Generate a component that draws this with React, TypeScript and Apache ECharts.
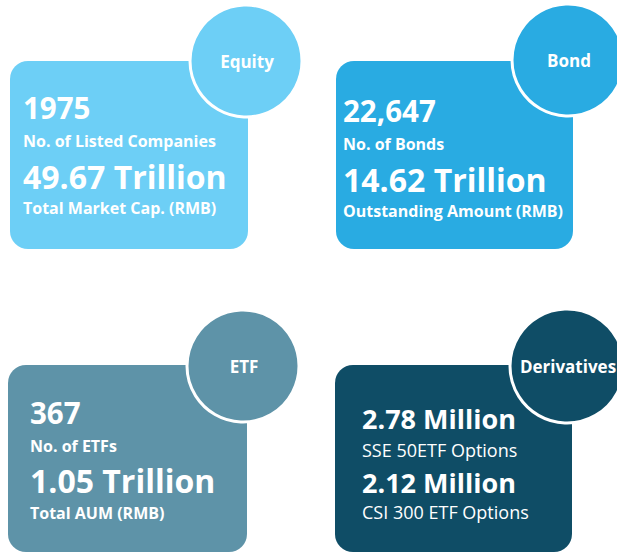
import React, { useEffect, useRef } from "react";
import * as echarts from "echarts";

const categories = ["Equity", "Bond", "ETF", "Derivatives"];
const firstValues = ["1975", "22,647", "367", "2.78 Million"];
const firstLabels = ["No. of Listed Companies", "No. of Bonds", "No. of ETFs", "SSE 50ETF Options"];
const secondValues = ["49.67 Trillion", "14.62 Trillion", "1.05 Trillion", "2.12 Million"];
const secondLabels = ["Total Market Cap. (RMB)", "Outstanding Amount (RMB)", "Total AUM (RMB)", "CSI 300 ETF Options"];

const colors = ["#6DCFF6", "#29ABE2", "#5E93A8", "#0F4D66"];
const cards = [
  { x: 10, y: 61, w: 238, h: 188, cx: 246, cy: 61, r: 56, tx: 23, lines: [107.5, 141, 176.5, 208], labelBold: true, big: 29.5, big2: 32, small: 16 },
  { x: 336, y: 61, w: 237, h: 188, cx: 568, cy: 60, r: 56, tx: 343, lines: [110, 144, 179, 211], labelBold: true, big: 29.5, big2: 32, small: 16 },
  { x: 8, y: 365, w: 239, h: 187, cx: 243, cy: 366, r: 56, tx: 30, lines: [412, 446, 480, 513], labelBold: true, big: 29.5, big2: 32, small: 16 },
  { x: 335, y: 365, w: 237, h: 187, cx: 567, cy: 366, r: 57, tx: 362, lines: [418, 450, 482, 512], labelBold: false, big: 27, big2: 27, small: 18 },
];

const FONT = "'Open Sans', sans-serif";

export default function App() {
  const ref = useRef<HTMLDivElement>(null);
  useEffect(() => {
    document.body.style.margin = "0";
    const chart = echarts.init(ref.current!, null, { renderer: "svg" });
    const elements: any[] = [];
    cards.forEach((c, i) => {
      elements.push({
        type: "rect",
        shape: { x: c.x, y: c.y, width: c.w, height: c.h, r: 18 },
        style: { fill: colors[i] },
      });
      elements.push({
        type: "circle",
        shape: { cx: c.cx, cy: c.cy, r: c.r },
        style: { fill: colors[i], stroke: "#ffffff", lineWidth: 3 },
      });
      elements.push({
        type: "text",
        x: c.cx + 1,
        y: c.cy,
        style: {
          text: categories[i],
          font: `bold 17px ${FONT}`,
          fill: "#ffffff",
          align: "center",
          verticalAlign: "middle",
        },
      });
      const texts = [
        { t: firstValues[i], f: `bold ${c.big}px ${FONT}` },
        { t: firstLabels[i], f: `${c.labelBold ? "bold" : "normal"} ${c.small}px ${FONT}` },
        { t: secondValues[i], f: `bold ${c.big2}px ${FONT}` },
        { t: secondLabels[i], f: `${c.labelBold ? "bold" : "normal"} ${c.small}px ${FONT}` },
      ];
      texts.forEach((tt, k) => {
        elements.push({
          type: "text",
          x: c.tx,
          y: c.lines[k],
          style: {
            text: tt.t,
            font: tt.f,
            fill: "#ffffff",
            align: "left",
            verticalAlign: "middle",
          },
        });
      });
    });
    chart.setOption({
      animation: false,
      backgroundColor: "#ffffff",
      graphic: { elements },
    });
    return () => chart.dispose();
  }, []);
  return <div ref={ref} style={{ width: 617, height: 554 }} />;
}
